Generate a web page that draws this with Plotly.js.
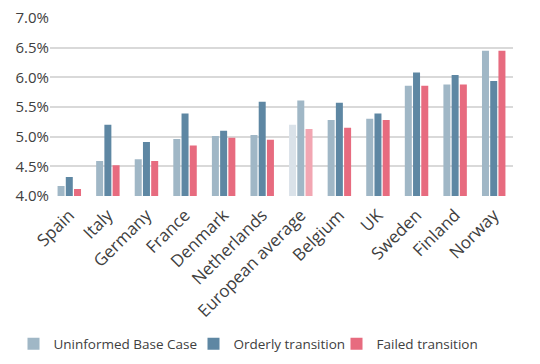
<!DOCTYPE html>
<html>
<head>
<meta charset="utf-8">
<script src="https://cdn.plot.ly/plotly-3.0.1.min.js"></script>
<style>html,body{margin:0;padding:0;background:#fff;}#chart{width:540px;height:364px;}</style>
</head>
<body>
<div id="chart"></div>
<script>
const categories = ["Spain","Italy","Germany","France","Denmark","Netherlands","European average","Belgium","UK","Sweden","Finland","Norway"];
const uninformed = [4.17, 4.59, 4.62, 4.96, 5.01, 5.03, 5.20, 5.28, 5.30, 5.86, 5.88, 6.45];
const orderly    = [4.32, 5.20, 4.91, 5.39, 5.10, 5.59, 5.61, 5.57, 5.39, 6.08, 6.04, 5.94];
const failed     = [4.12, 4.52, 4.59, 4.85, 4.98, 4.95, 5.13, 5.15, 5.28, 5.86, 5.88, 6.45];

const cU = "#a0b7c6", cO = "#5e87a3", cF = "#e76b7f";
const hiU = "#dae2e9", hiO = "#a0b7c6", hiF = "#f2a6b2";
const hiCat = "European average";
function colors(base, hi){ return categories.map(c => c === hiCat ? hi : base); }

const traces = [
  {type:"bar", name:"Uninformed Base Case", x:categories, y:uninformed, marker:{color:colors(cU,hiU)}, legendwidth:135},
  {type:"bar", name:"Orderly transition", x:categories, y:orderly, marker:{color:colors(cO,hiO)}, legendwidth:98},
  {type:"bar", name:"Failed transition", x:categories, y:failed, marker:{color:colors(cF,hiF)}, legendwidth:98}
];
const layout = {
  width:540, height:364,
  margin:{l:50, r:27, t:18, b:168},
  paper_bgcolor:"#fff", plot_bgcolor:"#fff",
  font:{family:"Open Sans, sans-serif", size:14, color:"#404040"},
  barmode:"group", bargap:0.36, bargroupgap:0.15,
  showlegend:true,
  legend:{orientation:"h", xref:"container", x:0.025, xanchor:"left", yref:"container", y:0.055, yanchor:"middle",
          font:{size:13.5}, traceorder:"normal", itemwidth:30, tracegroupgap:0},
  xaxis:{tickangle:-45, showgrid:false, zeroline:false, showline:false, ticks:"", tickfont:{size:17}, ticklabelstandoff:5, automargin:false},
  yaxis:{range:[4.0,7.0], dtick:0.5, tick0:4.0, tickformat:".1f", ticksuffix:"%", showgrid:true, gridcolor:"#d9d9d9", gridwidth:2, zeroline:false, showline:false, tickfont:{size:15}, automargin:false}
};
Plotly.newPlot("chart", traces, layout, {displayModeBar:false, staticPlot:true});
</script>
</body>
</html>
